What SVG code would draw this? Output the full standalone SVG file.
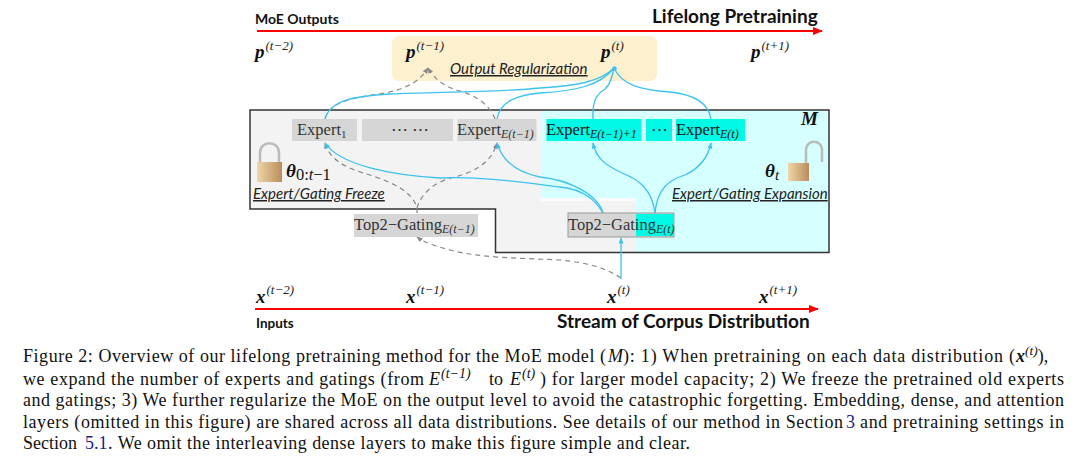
<svg xmlns="http://www.w3.org/2000/svg" width="1080" height="464" viewBox="0 0 1080 464">
<style>
.h{font-family:"Lato","Open Sans",sans-serif;font-weight:700;fill:#111}
.m{font-family:"Liberation Serif",serif;font-weight:700;font-style:italic;fill:#111;font-size:19px}
.s{font-family:"Liberation Serif",serif;font-style:italic;font-weight:400;font-size:13px;fill:#222}
.u{font-family:"Liberation Serif",serif;font-style:italic;font-weight:400;font-size:12px;fill:#333}
.e{font-family:"Liberation Serif",serif;font-size:16.500px;fill:#333}
.c{font-family:"Liberation Serif",serif;font-size:18px;fill:#111}
.i{font-family:"Lato","Open Sans",sans-serif;font-style:italic;font-size:15px;fill:#222;text-decoration:underline}
.b{fill:none;stroke:#3cc3ee;stroke-width:1.300}
.d{fill:none;stroke:#888;stroke-width:1.200;stroke-dasharray:5 4}
.old{fill:#d6d6d6}.new{fill:#00fae6}
</style>
<defs>
<marker id="ab" markerWidth="7" markerHeight="6" refX="5.500" refY="2.500" orient="auto" markerUnits="userSpaceOnUse"><path d="M0 0L6 2.500L0 5Z" fill="#3cc3ee"/></marker>
<marker id="ad" markerWidth="7" markerHeight="6" refX="5.500" refY="2.500" orient="auto" markerUnits="userSpaceOnUse"><path d="M0 0L6 2.500L0 5Z" fill="#888"/></marker>
<marker id="ar" markerWidth="10" markerHeight="10" refX="9" refY="4" orient="auto" markerUnits="userSpaceOnUse"><path d="M0 0L10 4L0 8Z" fill="#f00"/></marker>
<linearGradient id="lk" x1="0" x2="1" y1="0" y2="0"><stop offset="0" stop-color="#f0d6a8"/><stop offset="1" stop-color="#b98d5c"/></linearGradient>
</defs>
<rect width="1080" height="464" fill="#fff"/>
<rect x="392" y="36" width="265" height="45" rx="7" fill="#fdf0cf"/>
<g id="frame">
<path d="M251 110H541V199H635V252H496V209H251Z" fill="#f3f3f3"/>
<path d="M541 110H829V252H635V199H541Z" fill="#d6ffff"/>
<rect x="540" y="198" width="95" height="3" fill="#fbfbfb"/>
<path d="M250 110H829V252.500H495.500V209H250Z" fill="none" stroke="#333" stroke-width="1.500"/>
</g>
<g id="connectors">
<line x1="257" y1="31" x2="822" y2="31" stroke="#f00" stroke-width="2" marker-end="url(#ar)"/>
<line x1="255" y1="309" x2="818" y2="309" stroke="#f00" stroke-width="2" marker-end="url(#ar)"/>
<path class="d" d="M325 119C330 100 355 98 385 93C410 88 420 80 428 68" marker-end="url(#ad)"/>
<path class="d" d="M495 119C490 105 475 95 460 91C445 87 435 80 428 68" marker-end="url(#ad)"/>
<path class="b" d="M325 119C330 100 355 96 390 94C440 92 500 92 540 88C575 86 600 82 614 68"/>
<path class="b" d="M497 119C500 100 520 95 540 93C575 91 600 86 614 68"/>
<path class="b" d="M593 119C592 100 597 94 605 89C610 85 612 78 614 68"/>
<path class="b" d="M711 119C708 100 690 94 670 92C640 90 622 85 614 68"/>
<circle cx="614.500" cy="68.500" r="2.300" fill="#3cc3ee"/>
<path class="d" d="M417 213V208C412 190 390 182 370 175C345 168 330 160 325 143" marker-end="url(#ad)"/>
<path class="d" d="M417 208C422 190 440 180 455 177C480 170 492 160 497 143" marker-end="url(#ad)"/>
<path class="d" d="M621 278C605 268 590 263 560 260C520 258 480 258 450 250C435 246 425 243 417 237" marker-end="url(#ad)"/>
<path class="b" d="M603 213C595 200 585 190 560 187C520 182 480 176 440 178C390 175 340 165 325 143" marker-end="url(#ab)"/>
<path class="b" d="M603 213C598 195 570 180 540 177C515 172 502 160 497 143" marker-end="url(#ab)"/>
<path class="b" d="M655 213C652 190 640 180 622 173C605 165 596 158 593 143" marker-end="url(#ab)"/>
<path class="b" d="M655 213C657 190 668 180 685 175C700 168 708 158 711 143" marker-end="url(#ab)"/>
<path class="b" d="M621 279V238" marker-end="url(#ab)"/>
</g>
<g id="header">
<text class="h" x="255" y="24" font-size="14">MoE Outputs</text>
<text class="h" x="652" y="23" font-size="19">Lifelong Pretraining</text>
<text class="h" x="256" y="328" font-size="13.500">Inputs</text>
<text class="h" x="557" y="328" font-size="19">Stream of Corpus Distribution</text>
<text class="m" x="255" y="58">p<tspan class="s" dy="-8" dx="1">(t−2)</tspan></text>
<text class="m" x="406" y="58">p<tspan class="s" dy="-8" dx="1">(t−1)</tspan></text>
<text class="m" x="601" y="58">p<tspan class="s" dy="-8" dx="1">(t)</tspan></text>
<text class="m" x="751" y="58">p<tspan class="s" dy="-8" dx="1">(t+1)</tspan></text>
<text class="m" x="256" y="303">x<tspan class="s" dy="-9" dx="1">(t−2)</tspan></text>
<text class="m" x="406" y="303">x<tspan class="s" dy="-9" dx="1">(t−1)</tspan></text>
<text class="m" x="607" y="303">x<tspan class="s" dy="-9" dx="1">(t)</tspan></text>
<text class="m" x="759" y="303">x<tspan class="s" dy="-9" dx="1">(t+1)</tspan></text>
<text class="i" x="450" y="74">Output Regularization</text>
<text class="i" x="253" y="199">Expert/Gating Freeze</text>
<text class="i" x="672" y="199">Expert/Gating Expansion</text>
<text class="m" x="286" y="177" font-size="21">θ<tspan font-size="16.500" font-style="normal" font-weight="400" dy="3">0:</tspan><tspan font-size="16.500" font-weight="400">t</tspan><tspan font-size="16.500" font-style="normal" font-weight="400">−1</tspan></text>
<text class="m" x="765" y="177" font-size="21">θ<tspan font-size="15" font-weight="400" dy="3">t</tspan></text>
<text class="m" x="801" y="125" font-size="18">M</text>
</g>
<g id="expert-1"><rect class="old" x="292" y="119" width="65" height="22"/><text class="e" x="297" y="135">Expert<tspan font-size="11" dy="3">1</tspan></text></g>
<g id="expert-dots"><rect class="old" x="362" y="119" width="91" height="22"/><text class="e" x="391" y="135">⋯ ⋯</text></g>
<g id="expert-old"><rect class="old" x="457.500" y="119" width="79" height="22"/><text class="e" x="457" y="135">Expert<tspan class="u" dy="3">E(t−1)</tspan></text></g>
<g id="expert-new1"><rect class="new" x="546.500" y="119" width="95" height="22"/><text class="e" x="546" y="135" style="fill:#111">Expert<tspan class="u" dy="3" style="fill:#111">E(t−1)+1</tspan></text></g>
<g id="expert-newdots"><rect class="new" x="646" y="119" width="26" height="22"/><text class="e" x="651" y="135">⋯</text></g>
<g id="expert-new2"><rect class="new" x="676" y="119" width="69" height="22"/><text class="e" x="676" y="135" style="fill:#111">Expert<tspan class="u" dy="3" style="fill:#111">E(t)</tspan></text></g>
<g id="gating-old"><rect class="old" x="354" y="214" width="124" height="23"/><text class="e" x="354" y="230">Top2−Gating<tspan class="u" dy="3">E(t−1)</tspan></text></g>
<g id="gating-new"><rect class="old" x="568" y="213" width="106" height="24" stroke="#999"/><rect class="new" x="636" y="214" width="38" height="22"/><text class="e" x="568" y="230">Top2−Gating<tspan class="u" dy="3">E(t)</tspan></text></g>
<g id="lock-closed"><path d="M260 163V153C260 140 279 140 279 153V163" fill="none" stroke="#bbb" stroke-width="2.500"/><rect x="257" y="162" width="25" height="20" fill="url(#lk)"/></g>
<g id="lock-open"><path d="M806 163V150C806 139 822 139 822 150V162" fill="none" stroke="#bbb" stroke-width="2.500"/><rect x="788" y="163" width="21" height="18" fill="url(#lk)"/></g>
<g id="caption">
<text class="c" x="23" y="362" textLength="583">Figure 2: Overview of our lifelong pretraining method for the MoE model (</text>
<text class="c" x="608" y="362" font-style="italic">M</text>
<text class="c" x="623" y="362" textLength="392">): 1) When pretraining on each data distribution (</text>
<text class="c" x="1016" y="362" font-weight="700" font-style="italic">x<tspan font-size="13.500" font-weight="400" dy="-7">(t)</tspan><tspan dy="7" font-style="normal" font-weight="400">),</tspan></text>
<text class="c" x="23" y="385" textLength="401">we expand the number of experts and gatings (from</text>
<text class="c" x="429" y="385" font-style="italic">E<tspan font-size="14" dy="-7" dx="1">(t−1)</tspan></text>
<text class="c" x="489" y="385">to</text>
<text class="c" x="510" y="385" font-style="italic">E<tspan font-size="14" dy="-7" dx="1">(t)</tspan></text>
<text class="c" x="540" y="385" textLength="524">) for larger model capacity; 2) We freeze the pretrained old experts</text>
<text class="c" x="23" y="406" textLength="1041">and gatings; 3) We further regularize the MoE on the output level to avoid the catastrophic forgetting. Embedding, dense, and attention</text>
<text class="c" x="23" y="428" textLength="820">layers (omitted in this figure) are shared across all data distributions. See details of our method in Section</text>
<text class="c" x="846" y="428" style="fill:#1a1a8c">3</text>
<text class="c" x="860" y="428" textLength="204">and pretraining settings in</text>
<text class="c" x="23" y="449">Section</text>
<text class="c" x="85" y="449" style="fill:#1a1a8c">5.1</text>
<text class="c" x="108" y="449" textLength="582">. We omit the interleaving dense layers to make this figure simple and clear.</text>
</g>
</svg>
